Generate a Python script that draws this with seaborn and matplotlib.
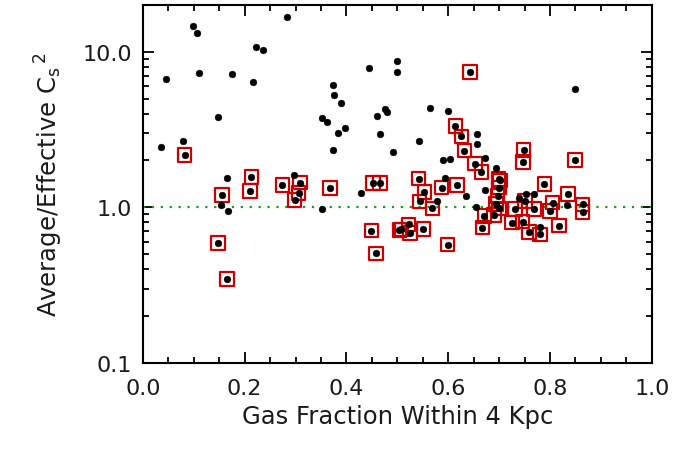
import matplotlib
matplotlib.use("Agg")
import matplotlib.pyplot as plt
import seaborn as sns
import pandas as pd
from matplotlib.ticker import FixedLocator, FixedFormatter, MultipleLocator, LogLocator, NullFormatter

# Unmarked galaxies (black dots only)
frac_plain = [0.036, 0.046, 0.078, 0.099, 0.106, 0.110, 0.147, 0.165, 0.153, 0.167,
              0.176, 0.216, 0.223, 0.236, 0.284, 0.297, 0.352, 0.362, 0.373, 0.375,
              0.390, 0.384, 0.397, 0.373, 0.352, 0.429, 0.444, 0.461, 0.476, 0.480,
              0.465, 0.492, 0.499, 0.499, 0.565, 0.600, 0.657, 0.656, 0.543, 0.589,
              0.604, 0.673, 0.693, 0.594, 0.578, 0.634, 0.654, 0.673, 0.752, 0.769,
              0.739, 0.833, 0.781, 0.850]
cs2_plain = [2.43, 6.67, 2.65, 14.7, 13.2, 7.29, 3.79, 1.54, 1.04, 0.94,
             7.14, 6.4, 10.7, 10.2, 16.6, 1.62, 3.75, 3.52, 6.1, 5.25,
             4.67, 3.0, 3.23, 2.34, 0.975, 1.24, 7.85, 3.88, 4.31, 4.1,
             2.94, 2.26, 8.71, 7.4, 4.35, 4.18, 2.97, 2.56, 2.65, 2.02,
             2.05, 2.08, 1.8, 1.54, 1.1, 1.18, 1.01, 1.29, 1.21, 1.22,
             1.14, 1.035, 0.745, 5.8]

# Marked galaxies (black dot inside red square)
frac_boxed = [0.082, 0.213, 0.211, 0.155, 0.148, 0.165, 0.274, 0.309, 0.306, 0.298,
              0.368, 0.452, 0.466, 0.449, 0.458, 0.504, 0.508, 0.522, 0.525, 0.551,
              0.599, 0.542, 0.553, 0.587, 0.617, 0.544, 0.569, 0.643, 0.614, 0.626,
              0.632, 0.653, 0.665, 0.699, 0.702, 0.700, 0.697, 0.694, 0.700, 0.671,
              0.690, 0.667, 0.748, 0.747, 0.849, 0.789, 0.731, 0.769, 0.800, 0.805,
              0.835, 0.864, 0.864, 0.725, 0.746, 0.759, 0.780, 0.818, 0.751]
cs2_boxed = [2.16, 1.56, 1.27, 1.2, 0.59, 0.347, 1.39, 1.44, 1.24, 1.11,
             1.33, 1.43, 1.43, 0.707, 0.505, 0.714, 0.72, 0.777, 0.683, 0.725,
             0.575, 1.53, 1.25, 1.34, 1.39, 1.09, 0.985, 7.43, 3.33, 2.86,
             2.31, 1.91, 1.68, 1.52, 1.49, 1.34, 1.18, 1.05, 0.985, 0.879,
             0.892, 0.74, 2.34, 1.95, 2.02, 1.41, 0.975, 0.975, 0.947, 1.07,
             1.22, 1.045, 0.93, 0.797, 0.81, 0.693, 0.67, 0.762, 1.1]

x_ticks = [0.0, 0.2, 0.4, 0.6, 0.8, 1.0]
x_tick_labels = ["0.0", "0.2", "0.4", "0.6", "0.8", "1.0"]
y_ticks = [0.1, 1.0, 10.0]
y_tick_labels = ["0.1", "1.0", "10.0"]

df_plain = pd.DataFrame({"frac": frac_plain, "cs2": cs2_plain})
df_boxed = pd.DataFrame({"frac": frac_boxed, "cs2": cs2_boxed})
df_all = pd.concat([df_plain, df_boxed], ignore_index=True)

sns.set_style("white")
plt.rcParams["font.family"] = ["DejaVu Sans"]
plt.rcParams["mathtext.fontset"] = "dejavusans"

fig = plt.figure(figsize=(6.74, 4.52), dpi=100)
ax = fig.add_axes([0.212, 0.195, 0.755, 0.792])

sns.scatterplot(data=df_boxed, x="frac", y="cs2", ax=ax, marker="s", s=95,
                facecolor="none", edgecolor="#cc0000", linewidth=1.6, zorder=2)
sns.scatterplot(data=df_all, x="frac", y="cs2", ax=ax, marker="o", s=24,
                color="black", edgecolor="black", linewidth=0.3, zorder=3)

ax.axhline(1.0, color="#1a9c1a", linestyle=(0, (1, 3)), linewidth=1.6, zorder=1)

ax.set_yscale("log")
ax.set_xlim(0.0, 1.0)
ax.set_ylim(0.1, 20.0)

ax.xaxis.set_major_locator(FixedLocator(x_ticks))
ax.xaxis.set_major_formatter(FixedFormatter(x_tick_labels))
ax.xaxis.set_minor_locator(MultipleLocator(0.05))
ax.yaxis.set_major_locator(FixedLocator(y_ticks))
ax.yaxis.set_major_formatter(FixedFormatter(y_tick_labels))
ax.yaxis.set_minor_locator(LogLocator(base=10, subs=range(2, 10)))
ax.yaxis.set_minor_formatter(NullFormatter())

ax.tick_params(which="both", direction="in", top=True, right=True, bottom=True, left=True,
               color="black", width=1.3)
ax.tick_params(which="major", length=8, labelsize=16, labelcolor="#1a1a1a")
ax.tick_params(axis="x", which="major", pad=11)
ax.tick_params(axis="y", which="major", pad=8)
ax.tick_params(which="minor", length=4.5)

for sp in ax.spines.values():
    sp.set_color("black")
    sp.set_linewidth(1.5)

ax.set_xlabel("Gas Fraction Within 4 Kpc", fontsize=17.5, color="#1a1a1a", labelpad=4)
ax.set_ylabel(r"Average/Effective C$_\mathrm{s}$$\,^2$", fontsize=17.5, color="#1a1a1a", labelpad=12)

fig.savefig("out.png", dpi=100)
